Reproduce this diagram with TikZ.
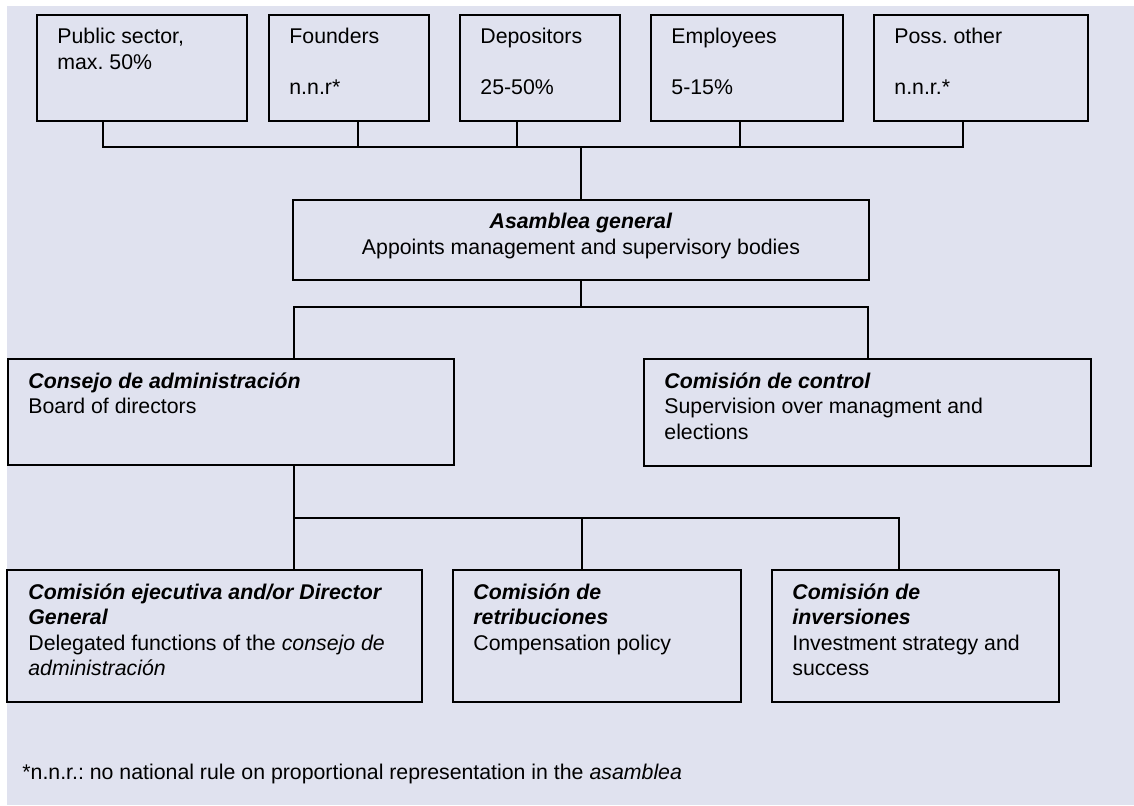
\documentclass[tikz,border=0pt]{standalone}
\usepackage{fontspec}
\setmainfont{Liberation Sans}
\usetikzlibrary{calc,fit}
\definecolor{lavender}{RGB}{224,226,239}
\newcommand{\orgname}[1]{\textbf{\textit{#1}}}
\frenchspacing
\tikzset{
	box/.style={draw,line width=1pt,inner sep=0pt,rectangle},
	txt/.style={inner sep=0pt,align=left,anchor=north west,font=\fontsize{10.65pt}{12.75pt}\selectfont,
		execute at begin node={\rule{0pt}{8.5pt}}},
	link/.style={line width=1pt,line cap=rect},
}

\begin{document}
\begin{tikzpicture}[x=0.5pt,y=-0.5pt]
	% Frame
	\useasboundingbox (0,0) rectangle (1134,805);
	\fill[white] (0,0) rectangle (1134,805);
	\fill[lavender] (7,6) rectangle (1134,805);
	% Members of the assembly
	\node[box,fit={(37,15) (247,121)}] (pub) {};
	\node[box,fit={(269,15) (429,121)}] (fnd) {};
	\node[box,fit={(460,15) (620,121)}] (dep) {};
	\node[box,fit={(651,15) (843,121)}] (emp) {};
	\node[box,fit={(874,15) (1088,121)}] (oth) {};
	\node[txt] (pubt) at ($(pub.north west)+(21,14)$) {Public sector,\\max. 50\%};
	\node[txt] (fndt) at ($(fnd.north west)+(21,14)$) {Founders\\[12.75pt]n.n.r*};
	\node[txt] (dept) at ($(dep.north west)+(21,14)$) {Depositors\\[12.75pt]25-50\%};
	\node[txt] (empt) at ($(emp.north west)+(21,14)$) {Employees\\[12.75pt]5-15\%};
	\node[txt] (otht) at ($(oth.north west)+(21,14)$) {Poss. other\\[12.75pt]n.n.r.*};
	% Assembly
	\node[box,fit={(293,200) (869,280)}] (asm) {};
	\node[txt,align=center,anchor=north] (asmt) at ($(asm.north)+(0,14)$) {\orgname{Asamblea general}\\Appoints management and supervisory bodies};
	% Board and control
	\node[box,fit={(8,359) (454,465)}] (cons) {};
	\node[box,fit={(644,359) (1091,466)}] (ctrl) {};
	\node[txt] (const) at ($(cons.north west)+(21,14)$) {\orgname{Consejo de administración}\\Board of directors};
	\node[txt] (ctrlt) at ($(ctrl.north west)+(21,14)$) {\orgname{Comisión de control}\\Supervision over managment and\\elections};
	% Committees
	\node[box,fit={(7,570) (422,702)}] (exec) {};
	\node[box,fit={(453,570) (741,702)}] (retr) {};
	\node[box,fit={(772,570) (1059,702)}] (inv) {};
	\node[txt] (exect) at ($(exec.north west)+(22,14)$) {\orgname{Comisión ejecutiva and/or Director}\\\orgname{General}\\Delegated functions of the \textit{consejo de}\\\textit{administración}};
	\node[txt] (retrt) at ($(retr.north west)+(21,14)$) {\orgname{Comisión de}\\\orgname{retribuciones}\\Compensation policy};
	\node[txt] (invt) at ($(inv.north west)+(21,14)$) {\orgname{Comisión de}\\\orgname{inversiones}\\Investment strategy and\\success};
	% Footnote
	\node[txt,anchor=base west] (note) at (22,779) {*n.n.r.: no national rule on proportional representation in the \textit{asamblea}};
	% Connectors
	\coordinate (topbus) at (103,147);
	\draw[link] ($(pub.south)+(-39,0)$) -- (topbus);
	\foreach \n/\dx in {fnd/9,dep/-23,emp/-7,oth/-18}
		\draw[link] (topbus) -| ($(\n.south)+(\dx,0)$);
	\draw[link] (topbus) -| (asm.north);
	\coordinate (midbus) at ($(asm.south)+(0,26)$);
	\draw[link] (asm.south) -- (midbus);
	\draw[link] (midbus) -| ($(cons.north)+(63,0)$);
	\draw[link] (midbus) -| (ctrl.north);
	\coordinate (lowbus) at ($(cons.south)+(63,52)$);
	\draw[link] ($(cons.south)+(63,0)$) -- ($(exec.north)+(79.5,0)$);
	\draw[link] (lowbus) -| ($(retr.north)+(-15,0)$);
	\draw[link] (lowbus) -| ($(inv.north)+(-16.5,0)$);
\end{tikzpicture}
\end{document}
